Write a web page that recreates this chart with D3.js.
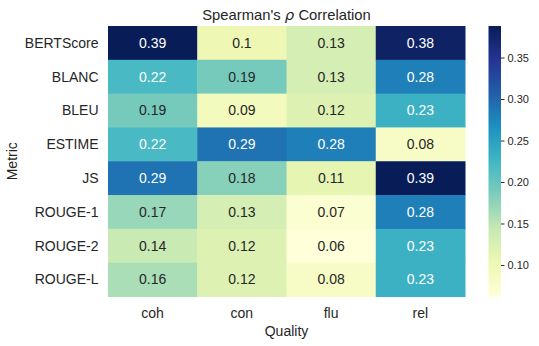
<!DOCTYPE html>
<html>
<head>
<meta charset="utf-8">
<script src="https://cdn.jsdelivr.net/npm/d3@7"></script>
<style>
  body { margin: 0; background: #fff; }
  text { font-family: "Liberation Sans", Arial, sans-serif; fill: #262626; }
</style>
</head>
<body>
<div id="chart"></div>
<script>
var metrics = ["BERTScore", "BLANC", "BLEU", "ESTIME", "JS", "ROUGE-1", "ROUGE-2", "ROUGE-L"];
var qualities = ["coh", "con", "flu", "rel"];
var coh = [0.39, 0.22, 0.19, 0.22, 0.29, 0.17, 0.14, 0.16];
var con = [0.10, 0.19, 0.09, 0.29, 0.18, 0.13, 0.12, 0.12];
var flu = [0.13, 0.13, 0.12, 0.28, 0.11, 0.07, 0.06, 0.08];
var rel = [0.38, 0.28, 0.23, 0.08, 0.39, 0.28, 0.23, 0.23];
var colorTicks = [0.10, 0.15, 0.20, 0.25, 0.30, 0.35];
var vMin = 0.062, vMax = 0.388;
var ylgnbu = ["#ffffd9", "#edf8b1", "#c7e9b4", "#7fcdbb", "#41b6c4",
              "#1d91c0", "#225ea8", "#253494", "#081d58"];

var drawHeatmap = function (domSelector) {
  var width = 539, height = 346;
  var plotLeft = 108, plotRight = 465, plotTop = 26, plotBottom = 296.5;

  var svg = d3.select(domSelector).append("svg")
    .attr("width", width)
    .attr("height", height);

  var x = d3.scaleBand().domain(qualities).range([plotLeft, plotRight]);
  var y = d3.scaleBand().domain(metrics).range([plotTop, plotBottom]);
  var color = d3.scaleLinear()
    .domain(d3.range(ylgnbu.length).map(function (i) { return vMin + (vMax - vMin) * i / (ylgnbu.length - 1); }))
    .range(ylgnbu)
    .clamp(true);

  var series = { coh: coh, con: con, flu: flu, rel: rel };
  var cells = [];
  qualities.forEach(function (q) {
    metrics.forEach(function (m, i) {
      cells.push({ q: q, m: m, v: series[q][i] });
    });
  });

  function textColor(c) {
    var rgb = d3.rgb(c);
    var lin = [rgb.r, rgb.g, rgb.b].map(function (v) {
      v = v / 255;
      return v <= 0.03928 ? v / 12.92 : Math.pow((v + 0.055) / 1.055, 2.4);
    });
    var l = 0.2126 * lin[0] + 0.7152 * lin[1] + 0.0722 * lin[2];
    return l > 0.408 ? "#262626" : "#ffffff";
  }

  svg.selectAll("rect.cell")
    .data(cells)
    .enter().append("rect")
      .attr("class", "cell")
      .attr("x", function (d) { return x(d.q); })
      .attr("y", function (d) { return y(d.m); })
      .attr("width", x.bandwidth() + 0.5)
      .attr("height", y.bandwidth() + 0.5)
      .attr("fill", function (d) { return color(d.v); });

  svg.selectAll("text.annot")
    .data(cells)
    .enter().append("text")
      .attr("class", "annot")
      .attr("x", function (d) { return x(d.q) + x.bandwidth() / 2; })
      .attr("y", function (d) { return y(d.m) + y.bandwidth() / 2; })
      .attr("dy", "0.35em")
      .attr("text-anchor", "middle")
      .style("font-size", "14px")
      .style("fill", function (d) { return textColor(color(d.v)); })
      .text(function (d) { return d3.format(".2~f")(d.v); });

  // y tick labels
  svg.selectAll("text.ylab")
    .data(metrics)
    .enter().append("text")
      .attr("class", "ylab")
      .attr("x", plotLeft - 9.5)
      .attr("y", function (d) { return y(d) + y.bandwidth() / 2; })
      .attr("dy", "0.35em")
      .attr("text-anchor", "end")
      .style("font-size", "14px")
      .text(function (d) { return d; });

  // x tick labels
  svg.selectAll("text.xlab")
    .data(qualities)
    .enter().append("text")
      .attr("class", "xlab")
      .attr("x", function (d) { return x(d) + x.bandwidth() / 2; })
      .attr("y", plotBottom + 21)
      .attr("text-anchor", "middle")
      .style("font-size", "14px")
      .text(function (d) { return d; });

  svg.append("text")
    .attr("x", (plotLeft + plotRight) / 2)
    .attr("y", plotBottom + 39)
    .attr("text-anchor", "middle")
    .style("font-size", "14px")
    .text("Quality");

  svg.append("text")
    .attr("transform", "translate(17," + (plotTop + plotBottom) / 2 + ") rotate(-90)")
    .attr("text-anchor", "middle")
    .style("font-size", "14px")
    .text("Metric");

  var title = svg.append("text")
    .attr("x", (plotLeft + plotRight) / 2)
    .attr("y", 19.5)
    .attr("text-anchor", "middle")
    .style("font-size", "14.8px");
  title.append("tspan").text("Spearman's ");
  title.append("tspan").style("font-style", "italic").style("font-family", "DejaVu Sans").text("ρ");
  title.append("tspan").text(" Correlation");

  // colorbar
  var cbX = 488.5, cbW = 12.5;
  var cy = d3.scaleLinear().domain([vMin, vMax]).range([plotBottom, plotTop]);
  var grad = svg.append("defs").append("linearGradient")
    .attr("id", "cbgrad")
    .attr("x1", 0).attr("y1", 1).attr("x2", 0).attr("y2", 0);
  grad.selectAll("stop")
    .data(color.domain())
    .enter().append("stop")
      .attr("offset", function (d) { return (d - vMin) / (vMax - vMin); })
      .attr("stop-color", function (d) { return color(d); });

  svg.append("rect")
    .attr("x", cbX)
    .attr("y", plotTop)
    .attr("width", cbW)
    .attr("height", plotBottom - plotTop)
    .attr("fill", "url(#cbgrad)");

  var cbAxis = svg.append("g")
    .attr("transform", "translate(" + (cbX + cbW) + ",0)")
    .call(d3.axisRight(cy).tickValues(colorTicks).tickFormat(d3.format(".2f")).tickSize(3.5).tickPadding(3));
  cbAxis.select(".domain").remove();
  cbAxis.selectAll("line").attr("stroke", "#262626");
  cbAxis.selectAll("text")
    .style("font-size", "11px")
    .style("font-family", "'Liberation Sans', Arial, sans-serif")
    .attr("fill", "#262626");
};

drawHeatmap("#chart");
</script>
</body>
</html>
